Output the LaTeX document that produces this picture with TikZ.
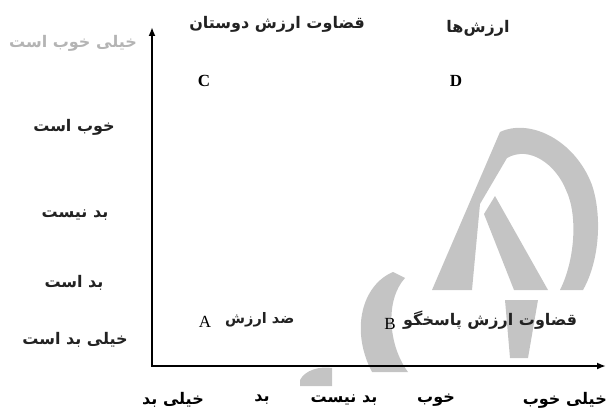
\documentclass[tikz,border=0pt]{standalone}
\usepackage{fontspec}
\setmainfont{Liberation Serif}
\newfontfamily\fa[Script=Arabic,BoldFont={DejaVu Sans Bold}]{DejaVu Sans}
\TeXXeTstate=1
\usetikzlibrary{arrows.meta}
\definecolor{wm}{HTML}{C4C4C4}
\definecolor{txt}{HTML}{222222}
\definecolor{lgray}{HTML}{B4B4B4}
\tikzset{
  fatext/.style={font=\fa\bfseries\fontsize{16}{18}\selectfont, text=txt, inner sep=0pt},
  fasmall/.style={font=\fa\bfseries\fontsize{14.5}{17}\selectfont, text=txt, inner sep=0pt},
  latin/.style={font=\fontsize{17}{19}\selectfont, inner sep=0pt},
  latinb/.style={font=\bfseries\fontsize{17}{19}\selectfont, inner sep=0pt},
  axis/.style={line width=1.8pt, {Latex[length=9pt,width=7pt]}-{Latex[length=9pt,width=7pt]}},
  wmark/.style={fill=wm, draw=none}
}
\begin{document}
\begin{tikzpicture}[x=1pt,y=-1pt]
\useasboundingbox (0,0) rectangle (608,417);
% watermark (approximate)
\fill[wmark] (432,290) -- (500,132) .. controls (530,118) and (575,140) .. (592,185)
  .. controls (602,215) and (600,260) .. (583,290) -- (560,290)
  .. controls (575,260) and (578,215) .. (566,190) .. controls (556,165) and (530,145) .. (507,158)
  -- (480,204) -- (472,290) -- cycle;
\fill[wmark] (484,214) -- (495,196) -- (548,290) -- (514,290) -- cycle;
\fill[wmark] (393,272) .. controls (362,285) and (350,330) .. (372,372)
  -- (408,372) .. controls (388,345) and (385,300) .. (405,278) -- cycle;
\fill[wmark] (505,300) -- (538,300) -- (528,358) -- (510,358) -- cycle;
\fill[wmark] (300,380) .. controls (305,370) and (320,366) .. (332,368) -- (332,386) -- (300,386) -- cycle;
% axes
\coordinate (ytop) at (152,27);
\coordinate (o) at (152,366);
\coordinate (xend) at (606,366);
\draw[axis] (ytop) -- (o) -- (xend);
% y labels
\node[fatext, text=lgray] (y5) at (73,43) {\beginR خیلی خوب است\endR};
\node[fatext] (y4) at (74,127) {\beginR خوب است\endR};
\node[fatext] (y3) at (75,215) {\beginR بد نیست\endR};
\node[fatext] (y2) at (74,283) {\beginR بد است\endR};
\node[fatext] (y1) at (75,340) {\beginR خیلی بد است\endR};
% x labels
\node[fatext, text=black] (x1) at (173,400) {\beginR خیلی بد\endR};
\node[fatext, text=black] (x2) at (262,400) {\beginR بد\endR};
\node[fatext, text=black] (x3) at (344,400) {\beginR بد نیست\endR};
\node[fatext, text=black] (x4) at (436,400) {\beginR خوب\endR};
\node[fatext, text=black, anchor=east] (x5) at (607,400) {\beginR خیلی خوب\endR};
% quadrants
\node[fatext] (tC) at (277,24) {\beginR قضاوت ارزش دوستان\endR};
\node[latinb] (C) at (204,81) {C};
\node[fatext] (tD) at (478,28) {\beginR ارزش‌ها\endR};
\node[latinb] (D) at (456,81) {D};
\node[latin] (A) at (205,322) {A};
\node[fasmall, anchor=west] (tA) at (225,320) {\beginR ضد ارزش\endR};
\node[latin] (B) at (390,324) {B};
\node[fatext, anchor=west] (tB) at (403,320) {\beginR قضاوت ارزش پاسخگو\endR};
\end{tikzpicture}
\end{document}
